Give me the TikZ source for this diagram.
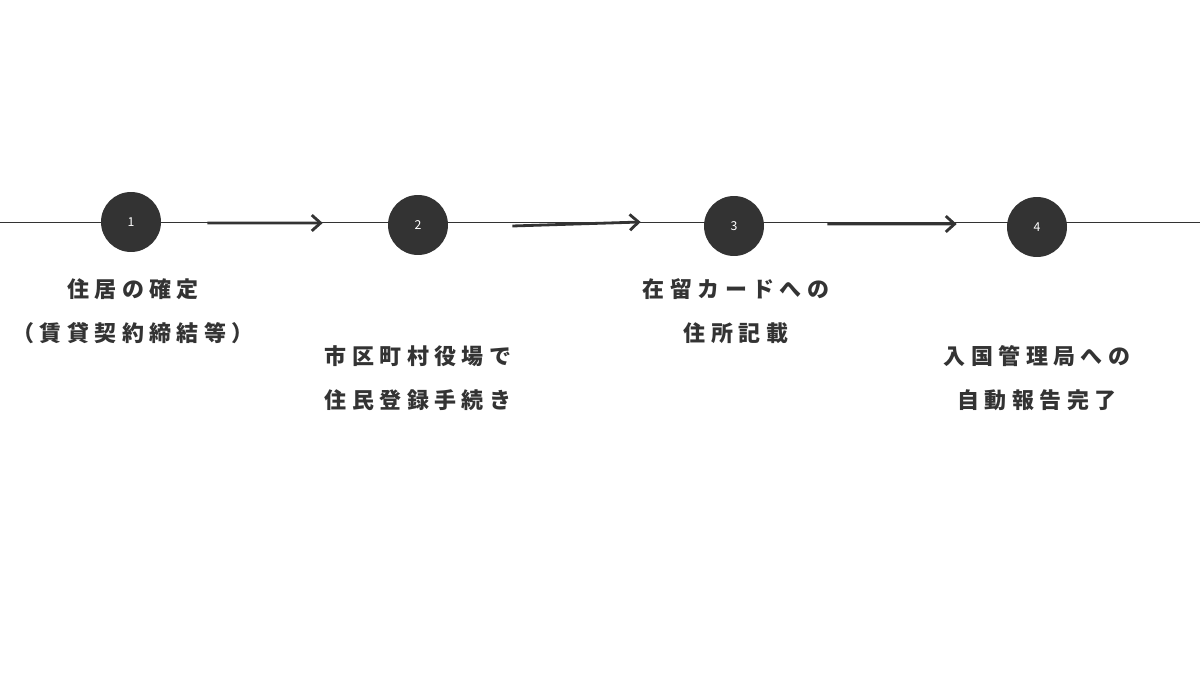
\documentclass[tikz,border=0pt]{standalone}
\usepackage{fontspec}
\newfontfamily\cjk[LetterSpace=25]{Noto Sans CJK JP}
\newfontfamily\numfont{Noto Sans CJK JP}
\usetikzlibrary{arrows.meta}
\definecolor{ink}{HTML}{333333}
\tikzstyle{step circle} = [circle, fill=ink, minimum size=1.2cm, inner sep=0pt, text=white, font=\numfont\fontsize{7}{8}\selectfont]
\tikzstyle{label} = [text=ink, font=\cjk\bfseries\fontsize{12.5}{25}\selectfont, align=center]
\tikzstyle{line} = [draw=ink, line width=1.6pt, -{Straight Barb[length=5pt,width=9pt]}]

\begin{document}
\begin{tikzpicture}[x=0.02cm, y=-0.02cm]
    \useasboundingbox (0,0) rectangle (1200,675);
    % Place nodes
    \coordinate (left) at (0,222);
    \coordinate (right) at (1200,222);
    \draw [ink, line width=0.5pt] (left) -- (right);
    \node [step circle] (s1) at (131,222) {1};
    \node [step circle] (s2) at (418,225) {2};
    \node [step circle] (s3) at (734,226) {3};
    \node [step circle] (s4) at (1037,227) {4};
    \node [label] (t1) at (133,311) {住居の確定\\（賃貸契約締結等）};
    \node [label] (t2) at (418,378) {市区町村役場で\\住民登録手続き};
    \node [label] (t3) at (736,311) {在留カードへの\\住所記載};
    \node [label] (t4) at (1037,378) {入国管理局への\\自動報告完了};
    % Draw edges
    \path [line] ([xshift=0.92cm,yshift=-0.02cm]s1.east) -- ([xshift=-1.3cm,yshift=0.04cm]s2.west);
    \path [line] ([xshift=1.28cm,yshift=-0.02cm]s2.east) -- ([xshift=-1.26cm,yshift=0.08cm]s3.west);
    \path [line] ([xshift=1.26cm,yshift=0.04cm]s3.east) -- ([xshift=-1cm,yshift=0.06cm]s4.west);
\end{tikzpicture}
\end{document}
